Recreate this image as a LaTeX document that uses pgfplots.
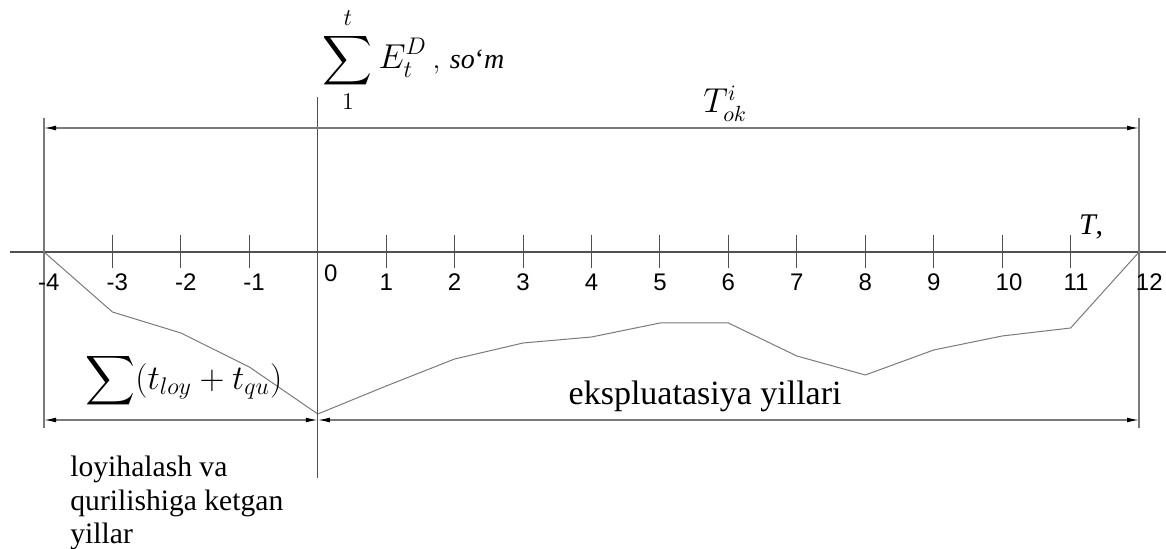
\documentclass[border=0pt]{standalone}
\usepackage{fontspec}
\setmainfont{Liberation Serif}
\newfontfamily\arial{Liberation Sans}
\usepackage{amsmath}
\usepackage{graphicx}
\usepackage{pgfplots}
\pgfplotsset{compat=1.18}
\usetikzlibrary{arrows.meta}

\definecolor{axisgray}{HTML}{505050}
\definecolor{linegray}{HTML}{7A7A7A}

% cumulative discounted effect per year (drawing units, below the axis = negative)
\pgfplotstableread{
x y
-4 0
-3 -60
-2 -81
-1 -115
0 -162
1 -134
2 -107
3 -91
4 -85
5 -71
6 -71
7 -104
8 -123
9 -98
10 -84
11 -76
12 0
}\effdata

\tikzset{
  dim/.style={linegray, line width=0.6pt,
    {Latex[length=6pt,width=2.4pt,black]}-{Latex[length=6pt,width=2.4pt,black]}},
  tl/.style={font=\arial\fontsize{12}{14}\selectfont},
}

\begin{document}
\begin{tikzpicture}
\begin{axis}[
    scale only axis, width=583pt, height=274.5pt,
    xmin=-4.643, xmax=12.394, ymin=-297, ymax=252,
    hide axis, clip=false,
]
\addplot[linegray, line width=0.5pt, mark=none] table {\effdata};

% time axis and vertical lines
\draw[axisgray, line width=0.7pt] (axis cs:-4.5,0) -- (axis cs:12.394,0);
\draw[axisgray, line width=0.6pt] (axis cs:0,155) -- (axis cs:0,-226);
\draw[linegray, line width=0.7pt] (axis cs:-4,134) -- (axis cs:-4,-176);
\draw[linegray, line width=0.7pt] (axis cs:12,134) -- (axis cs:12,-176);
\pgfplotsinvokeforeach{-3,-2,-1,1,2,3,4,5,6,7,8,9,10,11}{
  \draw[axisgray, line width=0.5pt] (axis cs:#1,17) -- (axis cs:#1,-16);
}

% tick labels
\pgfplotsinvokeforeach{1,2,3,4,5,6,7,8,9}{
  \node[tl] at (axis cs:#1,-30) {#1};
}
\node[tl] at (axis cs:-3.93,-30) {-4};
\node[tl] at (axis cs:-2.93,-30) {-3};
\node[tl] at (axis cs:-1.93,-30) {-2};
\node[tl] at (axis cs:-0.93,-30) {-1};
\node[tl] at (axis cs:0.19,-21) {0};
\node[tl] at (axis cs:10.1,-30) {10};
\node[tl] at (axis cs:11.08,-30) {11};
\node[tl] at (axis cs:12.15,-30) {12};
\node[font=\fontsize{15}{17}\selectfont] at (axis cs:11.3,25) {\textit{T},};

% dimension lines
\draw[dim] (axis cs:-4,124) -- (axis cs:12,124);
\draw[dim] (axis cs:-4,-168) -- (axis cs:0,-168);
\draw[dim] (axis cs:0,-168) -- (axis cs:12,-168);

% labels
\node[anchor=west, font=\fontsize{17}{20}\selectfont, inner sep=0pt] at (axis cs:0.07,192)
  {$\displaystyle\sum_{1}^{t} E_t^D$\,{\fontsize{14}{16}\selectfont$,\,\mathit{so}$‘$\mathit{m}$}};
\node[anchor=base west, font=\fontsize{16}{19}\selectfont, inner sep=0pt] at (axis cs:5.63,139)
  {$T_{ok}^{i}$};
\node[anchor=west, font=\fontsize{17}{20}\selectfont, inner sep=0pt] at (axis cs:-3.40,-129)
  {$\displaystyle\sum(t_{loy}+t_{qu})$};
\node[anchor=base, font=\fontsize{17}{20}\selectfont] at (axis cs:5.66,-153)
  {ekspluatasiya yillari};
\node[anchor=base west, inner sep=0pt, font=\fontsize{14.8}{17}\selectfont] at (axis cs:-3.62,-225) {loyihalash va};
\node[anchor=base west, inner sep=0pt, font=\fontsize{14.8}{17}\selectfont] at (axis cs:-3.62,-259) {qurilishiga ketgan};
\node[anchor=base west, inner sep=0pt, font=\fontsize{14.8}{17}\selectfont] at (axis cs:-3.62,-292) {yillar};
\end{axis}
\pgfresetboundingbox
\path[use as bounding box] (current axis.south west) rectangle (current axis.north east);
\end{tikzpicture}
\end{document}
